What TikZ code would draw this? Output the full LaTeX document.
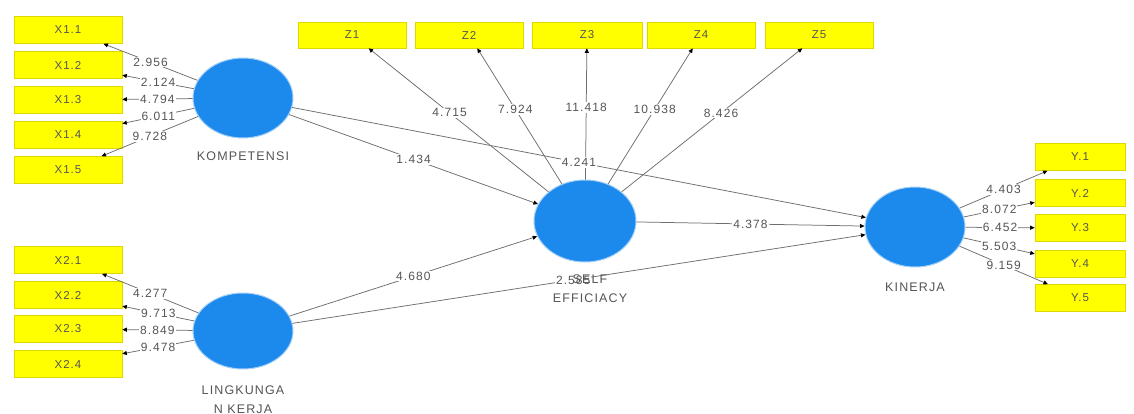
\documentclass[tikz,border=0pt]{standalone}
\usepackage{fontspec}
\setmainfont{Liberation Sans}
\newfontfamily\lbl[LetterSpace=9]{Liberation Sans}
\usetikzlibrary{shapes.geometric,arrows.meta}
\definecolor{ind}{RGB}{255,255,0}
\definecolor{indb}{RGB}{225,215,0}
\definecolor{lat}{RGB}{28,138,236}
\definecolor{ln}{RGB}{110,110,110}
\definecolor{tx}{RGB}{85,85,85}
\begin{document}
\begin{tikzpicture}[x=1pt,y=-1pt,
 indbox/.style={rectangle, fill=ind, draw=indb, line width=0.6pt, minimum width=108pt, minimum height=27pt, inner sep=0pt, font=\lbl\fontsize{11.5}{13}\selectfont, text=tx},
 latent/.style={ellipse, fill=lat, draw=lat!40!white, line width=1pt, minimum width=100pt, minimum height=80pt, inner sep=0pt},
 conn/.style={draw=ln, line width=0.75pt, -{Triangle[length=4.5pt,width=4pt,color=black]}},
 val/.style={fill=white, inner sep=1pt, text=tx, font=\lbl\fontsize{12}{13}\selectfont},
 latlab/.style={text=tx, font=\lbl\fontsize{12.5}{19}\selectfont, align=center}]
\useasboundingbox (0,0) rectangle (1134,414);
\fill[white] (0,0) rectangle (1134,414);
% latent variables
\node[latent] (komp) at (243,98) {};
\node[latent, minimum height=76pt] (ling) at (243,331) {};
\node[latent, minimum width=102pt, minimum height=82pt] (self) at (585,221) {};
\node[latent] (kin) at (915,227) {};
% indicators X1
\node[indbox] (x11) at (68,30) {X1.1};
\node[indbox] (x12) at (68,65) {X1.2};
\node[indbox] (x13) at (68,100) {X1.3};
\node[indbox] (x14) at (68,135) {X1.4};
\node[indbox] (x15) at (68,170) {X1.5};
% indicators X2
\node[indbox] (x21) at (68,260) {X2.1};
\node[indbox] (x22) at (68,295) {X2.2};
\node[indbox] (x23) at (68,329) {X2.3};
\node[indbox] (x24) at (68,364) {X2.4};
% indicators Z
\node[indbox, minimum height=26pt] (z1) at (352,35) {Z1};
\node[indbox, minimum height=26pt] (z2) at (469,35) {Z2};
\node[indbox, minimum height=26pt, minimum width=110pt] (z3) at (587,35) {Z3};
\node[indbox, minimum height=26pt] (z4) at (701,35) {Z4};
\node[indbox, minimum height=26pt] (z5) at (819,35) {Z5};
% indicators Y
\node[indbox, minimum width=90pt] (y1) at (1080,157) {Y.1};
\node[indbox, minimum width=90pt] (y2) at (1080,193) {Y.2};
\node[indbox, minimum width=90pt] (y3) at (1080,228) {Y.3};
\node[indbox, minimum width=90pt] (y4) at (1080,264) {Y.4};
\node[indbox, minimum width=90pt] (y5) at (1080,298) {Y.5};
% outer loadings
\draw[conn] (komp) -- node[val]{2.956} (x11);
\draw[conn] (komp) -- node[val]{2.124} (x12);
\draw[conn] (komp) -- node[val]{4.794} (x13);
\draw[conn] (komp) -- node[val]{6.011} (x14);
\draw[conn] (komp) -- node[val]{9.728} (x15);
\draw[conn] (ling) -- node[val]{4.277} (x21);
\draw[conn] (ling) -- node[val]{9.713} (x22);
\draw[conn] (ling) -- node[val]{8.849} (x23);
\draw[conn] (ling) -- node[val]{9.478} (x24);
\draw[conn] (self) -- node[val, pos=0.55]{4.715} (z1);
\draw[conn] (self) -- node[val, pos=0.55]{7.924} (z2);
\draw[conn] (self) -- node[val, pos=0.55]{11.418} (z3);
\draw[conn] (self) -- node[val, pos=0.55]{10.938} (z4);
\draw[conn] (self) -- node[val, pos=0.55]{8.426} (z5);
\draw[conn] (kin) -- node[val]{4.403} (y1);
\draw[conn] (kin) -- node[val]{8.072} (y2);
\draw[conn] (kin) -- node[val]{6.452} (y3);
\draw[conn] (kin) -- node[val]{5.503} (y4);
\draw[conn] (kin) -- node[val]{9.159} (y5);
% structural paths
\draw[conn] (komp) -- node[val]{1.434} (self);
\draw[conn] (komp) -- node[val]{4.241} (kin);
\draw[conn] (ling) -- node[val]{4.680} (self);
\draw[conn] (ling) -- node[val, pos=0.49]{2.585} (kin);
\draw[conn] (self) -- node[val]{4.378} (kin);
% latent labels
\node[latlab] (kompl) at (243,156) {KOMPETENSI};
\node[latlab, anchor=north] (lingl) at (243,382) {LINGKUNGA\\N KERJA};
\node[latlab, anchor=north] (selfl) at (590,271) {SELF\\EFFICIACY};
\node[latlab] (kinl) at (915,287) {KINERJA};
\end{tikzpicture}
\end{document}
